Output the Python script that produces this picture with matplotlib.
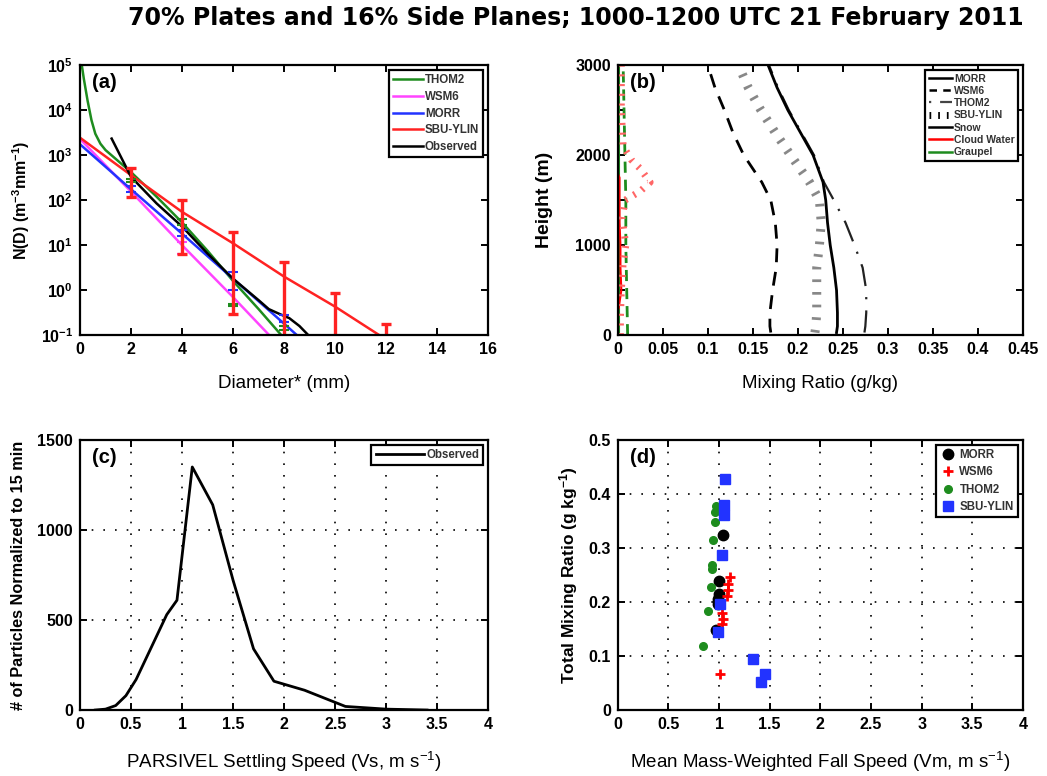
import matplotlib
matplotlib.use("Agg")
import matplotlib.pyplot as plt
import numpy as np
from matplotlib.lines import Line2D
from matplotlib.ticker import FuncFormatter, NullLocator

plt.rcParams['font.family'] = ['Liberation Sans', 'DejaVu Sans']
plt.rcParams['mathtext.fontset'] = 'custom'
plt.rcParams['mathtext.rm'] = 'Liberation Sans'
plt.rcParams['mathtext.it'] = 'Liberation Sans:italic'
plt.rcParams['mathtext.bf'] = 'Liberation Sans:bold'

# (a) size distributions, N(D) vs diameter
thom2_d = [0.05, 0.15, 0.3, 0.45, 0.6, 0.8, 1.0, 2.0, 3.0, 4.0, 5.0, 6.0, 7.0, 8.0]
thom2_n = [1.2e5, 5e4, 1.6e4, 6e3, 3e3, 1.8e3, 1.3e3, 420, 120, 32, 7.5, 1.6, 0.38, 0.085]
wsm6_d = [0, 2, 4, 6, 8]
wsm6_n = [2300, 155, 10, 0.7, 0.045]
morr_d = [0, 2, 4, 6, 8, 9]
morr_n = [1750, 175, 18, 1.8, 0.18, 0.056]
sbu_d = [0, 2, 4, 6, 8, 10, 12]
sbu_n = [2450, 360, 55, 11, 2.0, 0.43, 0.08]
obs_d = [1.24, 2, 3, 4, 5, 6, 7, 7.4, 7.8, 8.2, 8.6, 8.95]
obs_n = [2340, 330, 85, 26, 6.5, 1.8, 0.6, 0.38, 0.3, 0.24, 0.16, 0.1]

# error bar ranges (low, high) at selected diameters
sbu_err_d = [2, 4, 6, 8, 10, 12]
sbu_err_lo = [117, 6.3, 0.3, 0.01, 0.01, 0.01]
sbu_err_hi = [532, 100, 20, 4.2, 0.87, 0.175]
morr_err_d = [2, 4, 6, 8]
morr_err_lo = [155, 16, 1.0, 0.2]
morr_err_hi = [204, 22, 2.55, 0.28]
wsm6_err_d = [4]
wsm6_err_lo = [6.5]
wsm6_err_hi = [11.8]
thom2_err_d = [2, 4, 6, 8]
thom2_err_lo = [255, 28, 0.44, 0.13]
thom2_err_hi = [300, 39, 0.5, 0.16]

# (b) mixing ratio profiles (g/kg) vs height (m)
z_prof = [30, 100, 250, 500, 750, 1000, 1250, 1500, 1700, 2000, 2250, 2500, 2750, 3000]
morr_snow = [0.243, 0.244, 0.244, 0.243, 0.240, 0.236, 0.233, 0.231, 0.228, 0.217, 0.203, 0.189, 0.177, 0.167]
wsm6_snow = [0.170, 0.169, 0.169, 0.172, 0.176, 0.177, 0.175, 0.170, 0.160, 0.140, 0.128, 0.1185, 0.108, 0.100]
thom2_snow = [0.274, 0.275, 0.276, 0.276, 0.272, 0.263, 0.253, 0.240, 0.229, 0.218, 0.204, 0.190, 0.178, 0.168]
sbu_snow = [0.219, 0.220, 0.221, 0.221, 0.221, 0.224, 0.226, 0.224, 0.213, 0.192, 0.175, 0.159, 0.145, 0.134]
z_cw = [300, 500, 750, 1000, 1250, 1500, 1750, 1800]
morr_cw = [0.001, 0.004, 0.003, 0.003, 0.002, 0.002, 0.002, 0.0]
z_sbu_cw = [0, 200, 500, 800, 1000, 1300, 1500, 1600, 1700, 1850, 1950, 2100, 2500, 3000]
sbu_cw = [0.003, 0.003, 0.004, 0.006, 0.009, 0.005, 0.008, 0.025, 0.036, 0.025, 0.015, 0.006, 0.004, 0.004]
z_gr = [0, 500, 1000, 1500, 2000, 2500, 3000]
morr_gr = [0.001, 0.001, 0.001, 0.001, 0.001, 0.001, 0.001]
wsm6_gr = [0.011, 0.010, 0.009, 0.009, 0.008, 0.007, 0.006]

# (c) PARSIVEL fall speed histogram
vs_bins = [0.15, 0.25, 0.35, 0.45, 0.55, 0.65, 0.75, 0.85, 0.95, 1.1, 1.3, 1.5, 1.7, 1.9, 2.2, 2.6, 3.0, 3.4]
vs_count = [0, 5, 25, 80, 170, 290, 410, 530, 610, 1350, 1140, 720, 340, 160, 110, 20, 5, 0]

# (d) mass-weighted fall speed vs total mixing ratio
morr_vm = [1.04, 1.0, 1.0, 0.99, 0.99, 0.97]
morr_q = [0.325, 0.239, 0.215, 0.205, 0.197, 0.148]
wsm6_vm = [1.106, 1.093, 1.086, 1.08, 1.026, 1.04, 1.026, 1.01]
wsm6_q = [0.247, 0.234, 0.222, 0.212, 0.180, 0.169, 0.160, 0.066]
thom2_vm = [0.967, 0.96, 0.96, 0.944, 0.927, 0.927, 0.92, 0.894, 0.84]
thom2_q = [0.377, 0.366, 0.349, 0.314, 0.269, 0.261, 0.228, 0.183, 0.118]
sbu_vm = [1.06, 1.053, 1.053, 1.033, 1.013, 0.993, 1.338, 1.45, 1.417]
sbu_q = [0.428, 0.380, 0.362, 0.287, 0.197, 0.144, 0.095, 0.066, 0.051]

c_thom = '#1e8c1e'
c_wsm = '#ff44ff'
c_morr = '#2233ff'
c_sbu = '#ff2222'
tick_fs = 11.5
leg_col = '#333333'


def matlab_box(ax):
    for s in ax.spines.values():
        s.set_linewidth(1.6)
    ax.tick_params(direction='in', top=True, right=True, length=5, width=1.4,
                   labelsize=tick_fs, pad=5)
    for lab in ax.get_xticklabels() + ax.get_yticklabels():
        lab.set_fontweight('bold')


def boxed_legend(ax, handles, labels, fs, spacing, hlen, **kw):
    leg = ax.legend(handles, labels, loc='upper right', labelspacing=spacing,
                    handlelength=hlen, handletextpad=0.2, borderpad=0.35, borderaxespad=0.45,
                    fancybox=False, framealpha=1, edgecolor='black',
                    prop={'weight': 'bold', 'size': fs}, **kw)
    leg.get_frame().set_linewidth(1.6)
    for t in leg.get_texts():
        t.set_color(leg_col)
    return leg


fig = plt.figure(figsize=(10.47, 7.76), dpi=100)
fig.text(0.55, 0.977, '70% Plates and 16% Side Planes; 1000-1200 UTC 21 February 2011',
         ha='center', va='center', fontsize=17, fontweight='bold', family='DejaVu Sans')

# ---- (a)
ax = fig.add_axes([0.0764, 0.568, 0.390, 0.348])
ax.set_yscale('log')
ax.plot(thom2_d, thom2_n, color=c_thom, lw=1.8, label='THOM2')
ax.plot(wsm6_d, wsm6_n, color=c_wsm, lw=1.8, label='WSM6')
ax.plot(morr_d, morr_n, color=c_morr, lw=1.8, label='MORR')
ax.plot(sbu_d, sbu_n, color=c_sbu, lw=1.8, label='SBU-YLIN')
ax.plot(obs_d, obs_n, color='black', lw=1.8, label='Observed')
for d, lo, hi, col, lw in [(thom2_err_d, thom2_err_lo, thom2_err_hi, c_thom, 1.5),
                           (wsm6_err_d, wsm6_err_lo, wsm6_err_hi, c_wsm, 1.5),
                           (morr_err_d, morr_err_lo, morr_err_hi, c_morr, 1.5),
                           (sbu_err_d, sbu_err_lo, sbu_err_hi, c_sbu, 2.4)]:
    ax.vlines(d, lo, hi, color=col, lw=lw)
    ax.hlines(lo, np.array(d) - 0.2, np.array(d) + 0.2, color=col, lw=lw)
    ax.hlines(hi, np.array(d) - 0.2, np.array(d) + 0.2, color=col, lw=lw)
ax.set_xlim(0, 16)
ax.set_ylim(1e-1, 1e5)
ax.set_xticks(np.arange(0, 17, 2))
ax.set_yticks([1e-1, 1e0, 1e1, 1e2, 1e3, 1e4, 1e5])
ax.yaxis.set_minor_locator(NullLocator())
ax.yaxis.set_major_formatter(FuncFormatter(lambda v, p: r'$\mathbf{10^{%d}}$' % round(np.log10(v))))
matlab_box(ax)
ax.set_xlabel('Diameter* (mm)', fontsize=13.5, labelpad=13)
ax.set_ylabel(r'N(D) (m$^{\mathbf{-3}}$mm$^{\mathbf{-1}}$)', fontsize=11.5, fontweight='bold', labelpad=6)
ax.text(0.03, 0.97, '(a)', transform=ax.transAxes, fontsize=14.5, fontweight='bold', va='top')
h, l = ax.get_legend_handles_labels()
boxed_legend(ax, h, l, 8.3, 0.4, 2.6)

# ---- (b)
ax = fig.add_axes([0.590, 0.568, 0.387, 0.348])
hatch = (0, (0.3, 1.1))
ax.plot(morr_gr, z_gr, color=c_thom, lw=1.5)
ax.plot(wsm6_gr, z_gr, color=c_thom, lw=2, ls=(0, (4, 2.5)))
ax.plot(morr_cw, z_cw, color='red', lw=1.5)
ax.plot(sbu_cw, z_sbu_cw, color='#ff6666', lw=5, ls=hatch, dash_capstyle='butt')
ax.plot(sbu_snow, z_prof, color='#888888', lw=6.5, ls=hatch, dash_capstyle='butt')
ax.plot(thom2_snow, z_prof, color='#222222', lw=1.6, ls=(0, (10, 5, 1, 5)))
ax.plot(wsm6_snow, z_prof, color='black', lw=2.0, ls=(0, (5, 3.5)))
ax.plot(morr_snow, z_prof, color='black', lw=2.0)
ax.set_xlim(0, 0.45)
ax.set_ylim(0, 3000)
xt = np.arange(0, 0.451, 0.05)
ax.set_xticks(xt)
ax.set_xticklabels(['0', '0.05', '0.1', '0.15', '0.2', '0.25', '0.3', '0.35', '0.4', '0.45'])
ax.set_yticks(np.arange(0, 3001, 500))
ax.set_yticklabels(['0', '', '1000', '', '2000', '', '3000'])
matlab_box(ax)
ax.set_xlabel('Mixing Ratio (g/kg)', fontsize=13.5, labelpad=13)
ax.set_ylabel('Height (m)', fontsize=14, fontweight='bold', labelpad=16)
ax.text(0.03, 0.97, '(b)', transform=ax.transAxes, fontsize=14.5, fontweight='bold', va='top')
b_handles = [Line2D([], [], color='black', lw=1.8),
             Line2D([], [], color='black', lw=1.8, ls=(0, (3, 2.5))),
             Line2D([], [], color='#444444', lw=1.6, ls=(0, (1, 4, 7, 2))),
             Line2D([], [], color='black', lw=5, ls=(0, (0.25, 1.0)), dash_capstyle='butt'),
             Line2D([], [], color='black', lw=1.8),
             Line2D([], [], color='red', lw=1.8),
             Line2D([], [], color=c_thom, lw=1.8)]
b_labels = ['MORR', 'WSM6', 'THOM2', 'SBU-YLIN', 'Snow', 'Cloud Water', 'Graupel']
boxed_legend(ax, b_handles, b_labels, 7.5, 0.22, 2.2)

# ---- (c)
ax = fig.add_axes([0.0764, 0.085, 0.390, 0.348])
ax.plot(vs_bins, vs_count, color='black', lw=2.0, label='Observed')
ax.set_xlim(0, 4)
ax.set_ylim(0, 1500)
ax.set_xticks(np.arange(0, 4.01, 0.5))
ax.set_xticklabels(['0', '0.5', '1', '1.5', '2', '2.5', '3', '3.5', '4'])
ax.set_yticks([0, 500, 1000, 1500])
ax.grid(True, color='black', ls=(0, (1, 6)), lw=1.2)
matlab_box(ax)
ax.set_xlabel(r'PARSIVEL Settling Speed (Vs, m s$^{\mathrm{-1}}$)', fontsize=13.5, labelpad=13)
ax.set_ylabel('# of Particles Normalized to 15 min', fontsize=11.7, fontweight='bold', labelpad=8)
ax.text(0.03, 0.97, '(c)', transform=ax.transAxes, fontsize=14.5, fontweight='bold', va='top')
h, l = ax.get_legend_handles_labels()
boxed_legend(ax, h, l, 8.3, 0.3, 4.2)

# ---- (d)
ax = fig.add_axes([0.590, 0.085, 0.387, 0.348])
ax.plot(morr_vm, morr_q, 'o', color='black', ms=7.5, label='MORR')
ax.plot(wsm6_vm, wsm6_q, '+', color='red', ms=7, mew=2, label='WSM6')
ax.plot(thom2_vm, thom2_q, 'o', color=c_thom, ms=5.5, label='THOM2')
ax.plot(sbu_vm, sbu_q, 's', color=c_morr, ms=7, label='SBU-YLIN')
ax.set_xlim(0, 4)
ax.set_ylim(0, 0.5)
ax.set_xticks(np.arange(0, 4.01, 0.5))
ax.set_xticklabels(['0', '0.5', '1', '1.5', '2', '2.5', '3', '3.5', '4'])
ax.set_yticks(np.arange(0, 0.51, 0.1))
ax.set_yticklabels(['0', '0.1', '0.2', '0.3', '0.4', '0.5'])
ax.grid(True, color='black', ls=(0, (1, 6)), lw=1.2)
matlab_box(ax)
ax.set_xlabel(r'Mean Mass-Weighted Fall Speed (Vm, m s$^{\mathrm{-1}}$)', fontsize=13.5, labelpad=13)
ax.set_ylabel(r'Total Mixing Ratio (g kg$^{\mathbf{-1}}$)', fontsize=12.5, fontweight='bold', labelpad=6)
ax.text(0.03, 0.97, '(d)', transform=ax.transAxes, fontsize=14.5, fontweight='bold', va='top')
h, l = ax.get_legend_handles_labels()
boxed_legend(ax, h, l, 8.3, 0.45, 1.5)

fig.savefig('out.png', dpi=100)
